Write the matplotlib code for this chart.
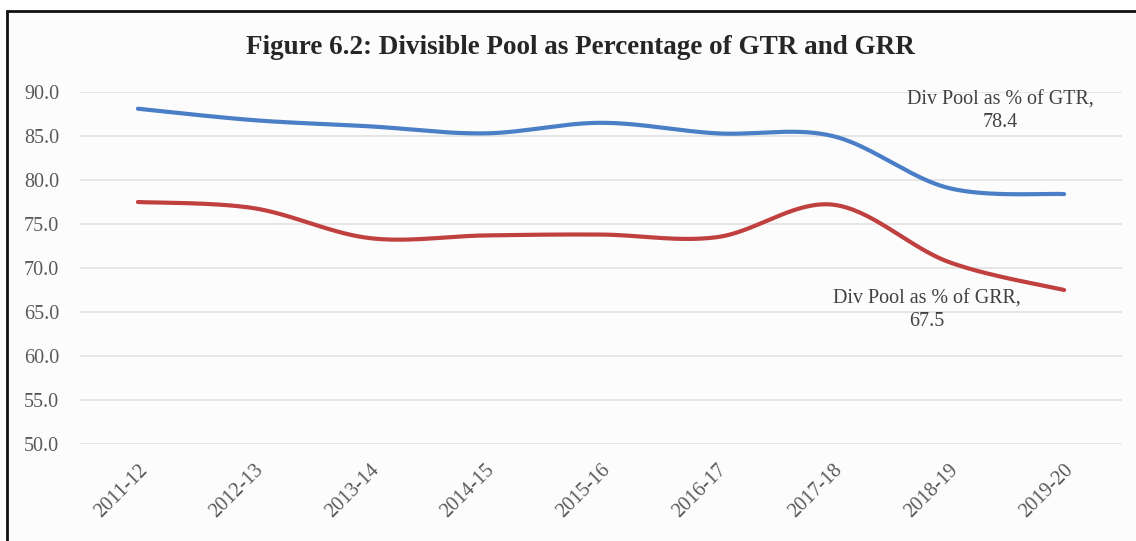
import matplotlib.pyplot as plt
import numpy as np
from matplotlib.patches import Rectangle

years = ['2011-12', '2012-13', '2013-14', '2014-15', '2015-16',
         '2016-17', '2017-18', '2018-19', '2019-20']
gtr = [88.1, 86.8, 86.1, 85.3, 86.5, 85.3, 85.0, 79.1, 78.4]
grr = [77.5, 76.8, 73.4, 73.7, 73.8, 73.5, 77.2, 70.7, 67.5]
yticks = [50, 55, 60, 65, 70, 75, 80, 85, 90]


def smooth(x, y, n=40):
    # Catmull-Rom style bezier, like Excel's smoothed line
    x = np.asarray(x, float)
    y = np.asarray(y, float)
    px = np.concatenate([[x[0]], x, [x[-1]]])
    py = np.concatenate([[y[0]], y, [y[-1]]])
    xs, ys = [], []
    t = np.linspace(0, 1, n)
    for i in range(1, len(px) - 2):
        p0 = np.array([px[i], py[i]])
        p3 = np.array([px[i + 1], py[i + 1]])
        c1 = p0 + (np.array([px[i + 1], py[i + 1]]) - np.array([px[i - 1], py[i - 1]])) / 6
        c2 = p3 - (np.array([px[i + 2], py[i + 2]]) - np.array([px[i], py[i]])) / 6
        b = ((1 - t) ** 3)[:, None] * p0 + (3 * (1 - t) ** 2 * t)[:, None] * c1 \
            + (3 * (1 - t) * t ** 2)[:, None] * c2 + (t ** 3)[:, None] * p3
        xs.extend(b[:, 0])
        ys.extend(b[:, 1])
    return xs, ys


plt.rcParams['font.family'] = ['Liberation Serif', 'DejaVu Serif']

fig = plt.figure(figsize=(11.36, 5.41), dpi=100)
fig.patch.set_facecolor('white')
W, H = 1136, 541

# outer chart frame (right and bottom edges are cut off)
frame = Rectangle((7 / W, -0.1), 1.2, 1 - 11 / H + 0.1,
                  transform=fig.transFigure, facecolor='#fcfcfc',
                  edgecolor='#111111', linewidth=2, zorder=-5)
fig.add_artist(frame)

ax = fig.add_axes([80 / W, 1 - 444 / H, (1122 - 80) / W, (444 - 92) / H])
ax.set_zorder(2)
ax.set_facecolor('none')

x = np.arange(len(years))
sx, sy = smooth(x, gtr)
ax.plot(sx, sy, color='#4a7ec6', linewidth=3.0, solid_capstyle='round')
sx, sy = smooth(x, grr)
ax.plot(sx, sy, color='#c0403f', linewidth=3.0, solid_capstyle='round')

ax.set_xlim(-0.5, len(years) - 0.5)
ax.set_ylim(50, 90)
ax.set_yticks(yticks)
ax.set_yticklabels([f'{v:.1f}' for v in yticks])
ax.set_xticks(x)
ax.set_xticklabels(years, rotation=45, ha='right', rotation_mode='anchor')
ax.tick_params(axis='both', length=0, labelsize=14.5, colors='#595959')
ax.tick_params(axis='x', pad=12)
ax.tick_params(axis='y', pad=15)
ax.grid(axis='y', color='#e3e3e3', linewidth=1.3)
ax.set_axisbelow(True)
for s in ax.spines.values():
    s.set_visible(False)

ax.annotate(f'Div Pool as % of GTR,\n{gtr[-1]}', xy=(x[-1], gtr[-1]),
            xytext=(1000 / W, 1 - 111 / H), textcoords='figure fraction',
            ha='center', va='center', fontsize=14.4, color='#404040',
            linespacing=1.25)
ax.annotate(f'Div Pool as % of GRR,\n{grr[-1]}', xy=(x[-1], grr[-1]),
            xytext=(927 / W, 1 - 310 / H), textcoords='figure fraction',
            ha='center', va='center', fontsize=14.4, color='#404040',
            linespacing=1.25)

fig.text(580 / W, 1 - 47 / H,
         'Figure 6.2: Divisible Pool as Percentage of GTR and GRR',
         ha='center', va='center', fontsize=19.5, fontweight='bold',
         color='#262626', zorder=3)

plt.savefig('out.png', dpi=100)
